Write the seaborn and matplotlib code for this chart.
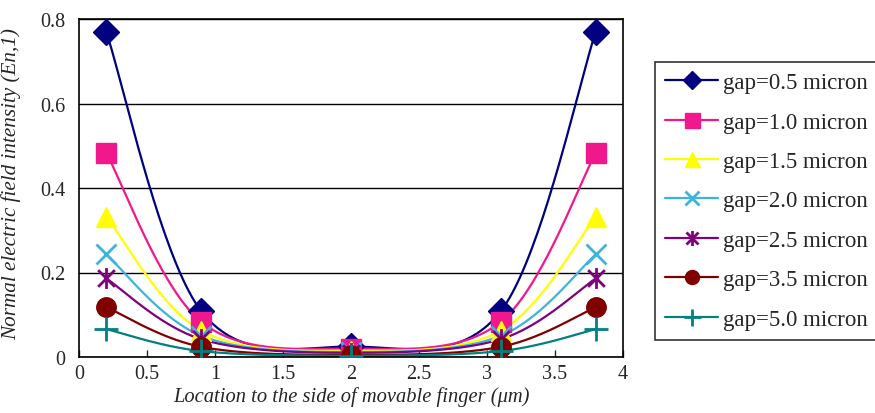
import numpy as np
import pandas as pd
import matplotlib
matplotlib.use("Agg")
import matplotlib.pyplot as plt
import seaborn as sns
from matplotlib.lines import Line2D
from matplotlib.path import Path

# Data
location = [0.2, 0.9, 2.0, 3.1, 3.8]
gap_labels = ["gap=0.5 micron", "gap=1.0 micron", "gap=1.5 micron", "gap=2.0 micron",
              "gap=2.5 micron", "gap=3.5 micron", "gap=5.0 micron"]
gap_05 = [0.770, 0.108, 0.025, 0.108, 0.770]
gap_10 = [0.483, 0.083, 0.020, 0.083, 0.483]
gap_15 = [0.332, 0.062, 0.015, 0.062, 0.332]
gap_20 = [0.243, 0.050, 0.012, 0.050, 0.243]
gap_25 = [0.186, 0.042, 0.010, 0.042, 0.186]
gap_35 = [0.118, 0.024, 0.005, 0.024, 0.118]
gap_50 = [0.066, 0.014, 0.003, 0.014, 0.066]
series = [gap_05, gap_10, gap_15, gap_20, gap_25, gap_35, gap_50]

# asterisk like the Excel star marker: vertical bar plus an x
star = Path([(0, -1), (0, 1), (-0.8, -0.8), (0.8, 0.8), (-0.8, 0.8), (0.8, -0.8)],
            [Path.MOVETO, Path.LINETO, Path.MOVETO, Path.LINETO, Path.MOVETO, Path.LINETO])

colors = ["#000080", "#F0188C", "#FFFF00", "#3CB4DC", "#800080", "#800000", "#008080"]
markers = ["D", "s", "^", "x", star, "o", "+"]
msizes = [13, 15, 15, 14, 15, 14, 17]


def smooth_curve(x, y, n=40):
    """Excel-like smoothed line (Catmull-Rom as cubic Bezier) through the points."""
    p = np.column_stack([x, y]).astype(float)
    ext = np.vstack([p[0], p, p[-1]])
    out = []
    t = np.linspace(0, 1, n)[:, None]
    for i in range(len(p) - 1):
        p0, p3 = p[i], p[i + 1]
        c1 = p0 + (ext[i + 2] - ext[i]) / 6.0
        c2 = p3 - (ext[i + 3] - ext[i + 1]) / 6.0
        seg = ((1 - t) ** 3) * p0 + 3 * ((1 - t) ** 2) * t * c1 + 3 * (1 - t) * t ** 2 * c2 + t ** 3 * p3
        out.append(seg if i == 0 else seg[1:])
    out = np.vstack(out)
    return out[:, 0], out[:, 1]


df = pd.DataFrame({lab: vals for lab, vals in zip(gap_labels, series)})
df["location"] = location

sns.set_style("white")
plt.rcParams["font.family"] = ["Liberation Serif", "DejaVu Serif"]

fig = plt.figure(figsize=(8.75, 4.14), dpi=100)
ax = fig.add_axes([79 / 875, 1 - 358 / 414, 544 / 875, 338 / 414])

handles = []
for i, (lab, col, ms) in enumerate(zip(gap_labels, colors, msizes)):
    mk = markers[i]
    xs, ys = smooth_curve(df["location"], df[lab])
    sns.lineplot(x=xs, y=ys, sort=False, estimator=None, color=col, linewidth=1.6, ax=ax)
    mew = 2.0 if i in (3, 4, 6) else 1.0
    ax.plot(df["location"], df[lab], linestyle="none", marker=mk, markersize=ms,
            color=col, markeredgecolor=col, markeredgewidth=mew, zorder=3)
    handles.append(Line2D([0], [0], color=col, linewidth=1.6, marker=mk,
                          markersize=ms * 0.72, markeredgewidth=mew, markeredgecolor=col))

ax.set_xlim(0, 4)
ax.set_ylim(0, 0.8)
ax.set_xticks([0, 0.5, 1, 1.5, 2, 2.5, 3, 3.5, 4])
ax.set_xticklabels(["0", "0.5", "1", "1.5", "2", "2.5", "3", "3.5", "4"])
ax.set_yticks([0, 0.2, 0.4, 0.6, 0.8])
ax.set_yticklabels(["0", "0.2", "0.4", "0.6", "0.8"])
ax.tick_params(axis="x", direction="in", length=5, width=1, pad=5, labelsize=14.5, bottom=True)
ax.tick_params(axis="y", length=0, pad=10, labelsize=14.5)
ax.yaxis.grid(True, color="black", linewidth=1)
ax.xaxis.grid(False)
for s in ax.spines.values():
    s.set_color("black")
    s.set_linewidth(1.2)

ax.set_xlabel("Location to the side of movable finger (μm)", fontsize=14.75, style="italic", labelpad=2)
ax.set_ylabel("Normal electric field intensity (En,1)", fontsize=15.2, style="italic")
ax.yaxis.set_label_coords(-0.107, 0.516)

leg = fig.legend(handles, gap_labels, loc="upper left",
                 bbox_to_anchor=(655 / 875, 1 - 63 / 414),
                 fontsize=16.5, frameon=True, fancybox=False, handlelength=2.3,
                 handletextpad=0.2, labelspacing=0.8, borderpad=0.45, borderaxespad=0)
leg.get_frame().set_edgecolor("black")
leg.get_frame().set_linewidth(1.2)

fig.savefig("out.png", dpi=100)
